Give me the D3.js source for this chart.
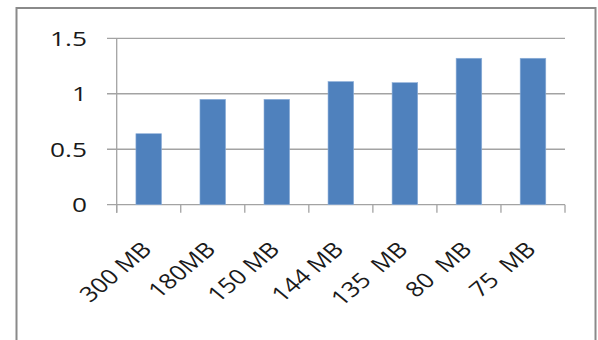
<!DOCTYPE html>
<html>
<head>
<meta charset="utf-8">
<script src="https://cdn.jsdelivr.net/npm/d3@7"></script>
<style>
  html, body { margin: 0; padding: 0; background: #fff; }
  svg { display: block; }
  text { font-family: "Open Sans", sans-serif; fill: #1a1a1a; }
</style>
</head>
<body>
<svg id="chart" width="598" height="340"></svg>
<script>
// File sizes and their relative scores
const categories = ["300 MB", "180MB", "150 MB", "144 MB", "135  MB", "80  MB", "75  MB"];
const values = [0.64, 0.95, 0.95, 1.11, 1.10, 1.32, 1.32];
const yTicks = [0, 0.5, 1, 1.5];
const yTickLabels = ["0", "0.5", "1", "1.5"];

const svg = d3.select("#chart");
const plot = { left: 116.7, right: 565, top: 38.3, bottom: 204.7 };
const yStretch = 1.28;
const xStretch = 1.2;

// outer frame (runs off the bottom edge)
svg.append("rect")
  .attr("x", 16.5).attr("y", 8).attr("width", 579).attr("height", 360)
  .attr("fill", "none").attr("stroke", "#8a8a8a").attr("stroke-width", 2);

const x = d3.scaleBand().domain(categories).range([plot.left, plot.right])
  .paddingInner(0.6).paddingOuter(0.3);
const y = d3.scaleLinear().domain([0, 1.5]).range([plot.bottom, plot.top]);

// horizontal gridlines with outside ticks
svg.append("g").selectAll("line").data(yTicks).join("line")
  .attr("x1", 107).attr("x2", plot.right)
  .attr("y1", d => y(d)).attr("y2", d => y(d))
  .attr("stroke", "#a3a3a3").attr("stroke-width", 1.3);

// bars
svg.append("g").selectAll("rect").data(values).join("rect")
  .attr("x", (d, i) => x(categories[i]))
  .attr("width", x.bandwidth())
  .attr("y", d => y(d))
  .attr("height", d => y(0) - y(d))
  .attr("fill", "#4f81bd")
  .attr("stroke", "#8fb0d9").attr("stroke-width", 0.6);

// value axis line
svg.append("line")
  .attr("x1", plot.left).attr("x2", plot.left)
  .attr("y1", plot.top).attr("y2", plot.bottom + 8)
  .attr("stroke", "#a3a3a3").attr("stroke-width", 1.3);

// category boundary ticks
const step = (plot.right - plot.left) / categories.length;
const bounds = d3.range(categories.length + 1).map(i => plot.left + i * step);
svg.append("g").selectAll("line").data(bounds).join("line")
  .attr("x1", d => d).attr("x2", d => d)
  .attr("y1", plot.bottom).attr("y2", plot.bottom + 8)
  .attr("stroke", "#a3a3a3").attr("stroke-width", 1.3);

// value labels
svg.append("g").selectAll("text").data(yTicks).join("text")
  .attr("transform", d => `translate(87,${y(d)}) scale(${yStretch},1)`)
  .attr("dy", "0.36em")
  .attr("text-anchor", "end")
  .attr("font-size", 20.5)
  .text((d, i) => yTickLabels[i]);

// rotated category labels
svg.append("g").selectAll("text").data(categories).join("text")
  .attr("transform", d => `translate(${x(d) + x.bandwidth() / 2 - 2},${plot.bottom + 41}) scale(${xStretch},1) rotate(-45)`)
  .attr("text-anchor", "end")
  .attr("dy", "0.35em")
  .attr("font-size", 21)
  .style("white-space", "pre")
  .text(d => d);
</script>
</body>
</html>
